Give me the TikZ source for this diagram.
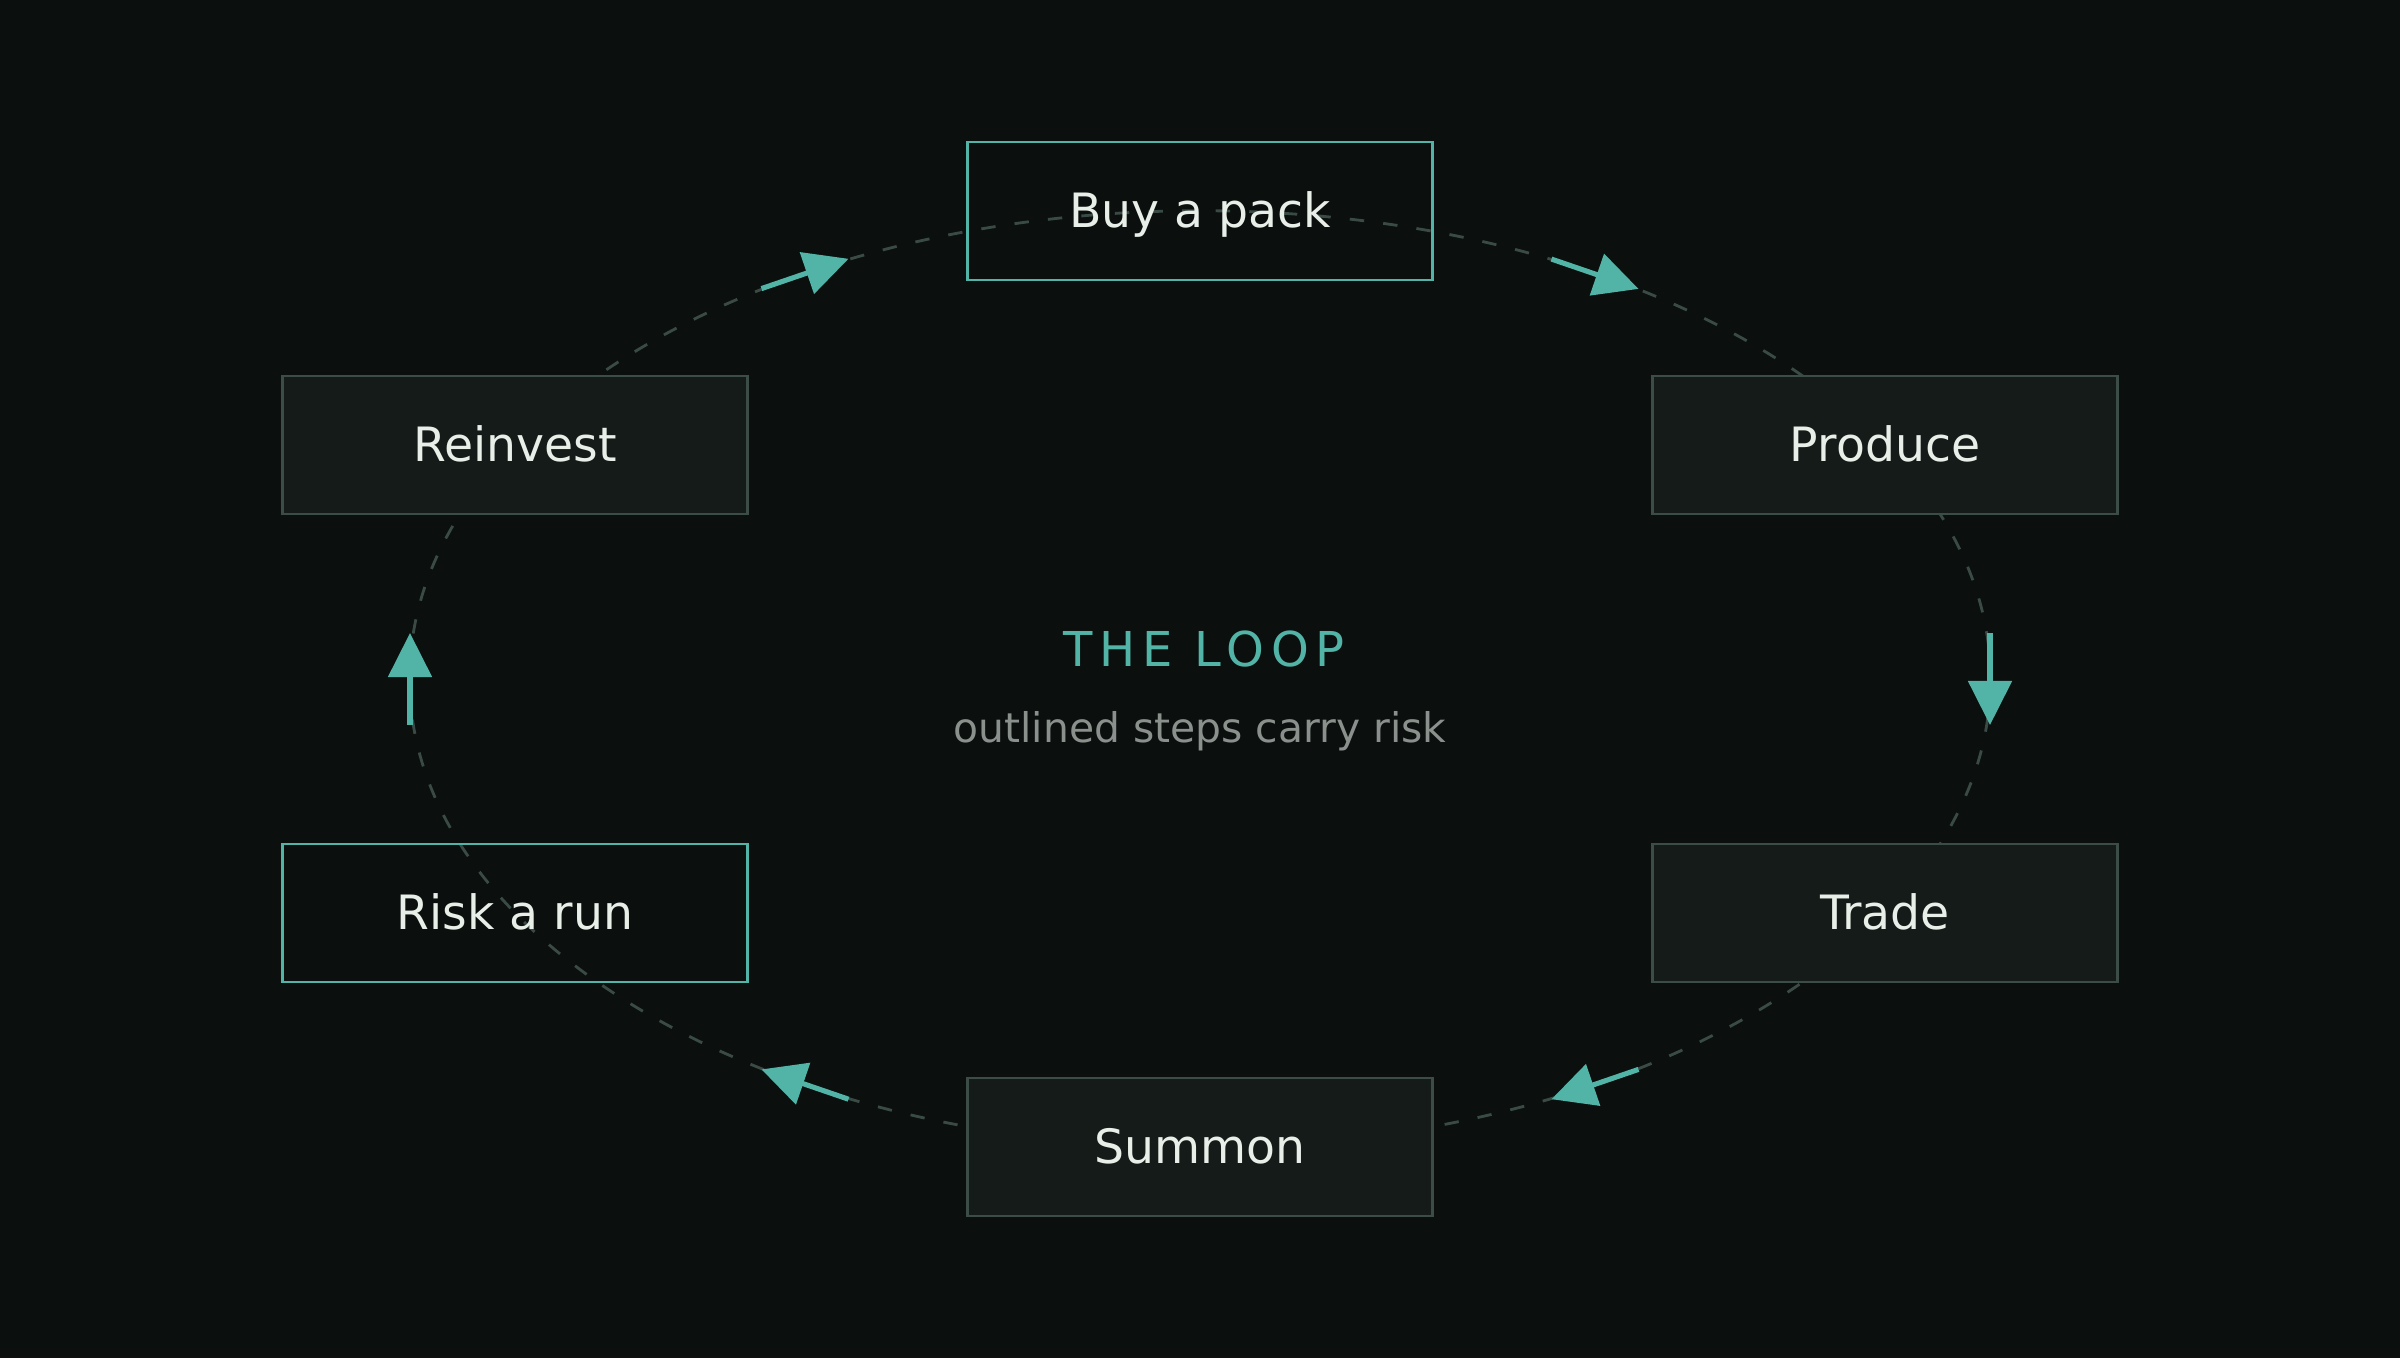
\documentclass[tikz,border=0pt]{standalone}
\usepackage{fontspec}
\setmainfont{DejaVu Sans}
\newfontfamily\titlefont[LetterSpace=14]{DejaVu Sans}
\usetikzlibrary{arrows.meta}
\definecolor{bg}{HTML}{0B0F0E}
\definecolor{boxfill}{HTML}{151B19}
\definecolor{boxline}{HTML}{3C4C47}
\definecolor{orbitc}{HTML}{3A4A44}
\definecolor{accent}{HTML}{52B4A6}
\definecolor{txt}{HTML}{E8EFE9}
\definecolor{subtxt}{HTML}{8A918C}
\begin{document}
\begin{tikzpicture}[x=0.01cm,y=-0.01cm,
  stepbox/.style={rectangle, minimum width=4.65cm, minimum height=1.38cm, inner sep=0pt,
    text height=0.33cm, text depth=0pt, line width=0.8pt,
    font=\fontsize{13.45}{16}\selectfont, text=txt},
  riskbox/.style={stepbox, draw=accent},
  plainbox/.style={stepbox, draw=boxline, fill=boxfill},
  flow/.style={draw=accent, line width=1.45pt, -{Triangle[length=0.44cm,width=0.43cm]}},
  orbit/.style={draw=orbitc, line width=0.8pt, dash pattern=on 4.1pt off 5.46pt}]
\fill[bg] (0,0) rectangle (2400,1358);
\useasboundingbox (0,0) rectangle (2400,1358);
% orbit
\coordinate (ctr) at (1200,679);
\draw[orbit] (ctr) ellipse [x radius=7.9cm, y radius=4.68cm];
% steps
\node[riskbox]  (buy)      at (1200,211)  {Buy a pack};
\node[plainbox] (produce)  at (1885,445)  {Produce};
\node[plainbox] (trade)    at (1885,913)  {Trade};
\node[plainbox] (summon)   at (1200,1147) {Summon};
\node[riskbox]  (risk)     at (515,913)   {Risk a run};
\node[plainbox] (reinvest) at (515,445)   {Reinvest};
% arrow ends
\coordinate (a1s) at (1551.5,259.1); \coordinate (a1e) at (1638.5,288.9);
\coordinate (a2s) at (1990,633);     \coordinate (a2e) at (1990,725);
\coordinate (a3s) at (1638.5,1069.4);\coordinate (a3e) at (1551.5,1099.2);
\coordinate (a4s) at (848.5,1099.2); \coordinate (a4e) at (761.5,1069.4);
\coordinate (a5s) at (410,725);      \coordinate (a5e) at (410,633);
\coordinate (a6s) at (761.5,288.6);  \coordinate (a6e) at (848.5,258.8);
\draw[flow] (a1s) -- (a1e);
\draw[flow] (a2s) -- (a2e);
\draw[flow] (a3s) -- (a3e);
\draw[flow] (a4s) -- (a4e);
\draw[flow] (a5s) -- (a5e);
\draw[flow] (a6s) -- (a6e);
% centre text
\node[anchor=base, inner sep=0pt, text=accent, font=\titlefont\fontsize{13.66}{16}\selectfont] (title) at (1204,666) {THE LOOP};
\node[anchor=base, inner sep=0pt, text=subtxt, font=\fontsize{11.61}{14}\selectfont] (sub) at (1200,742) {outlined steps carry risk};
\end{tikzpicture}
\end{document}
